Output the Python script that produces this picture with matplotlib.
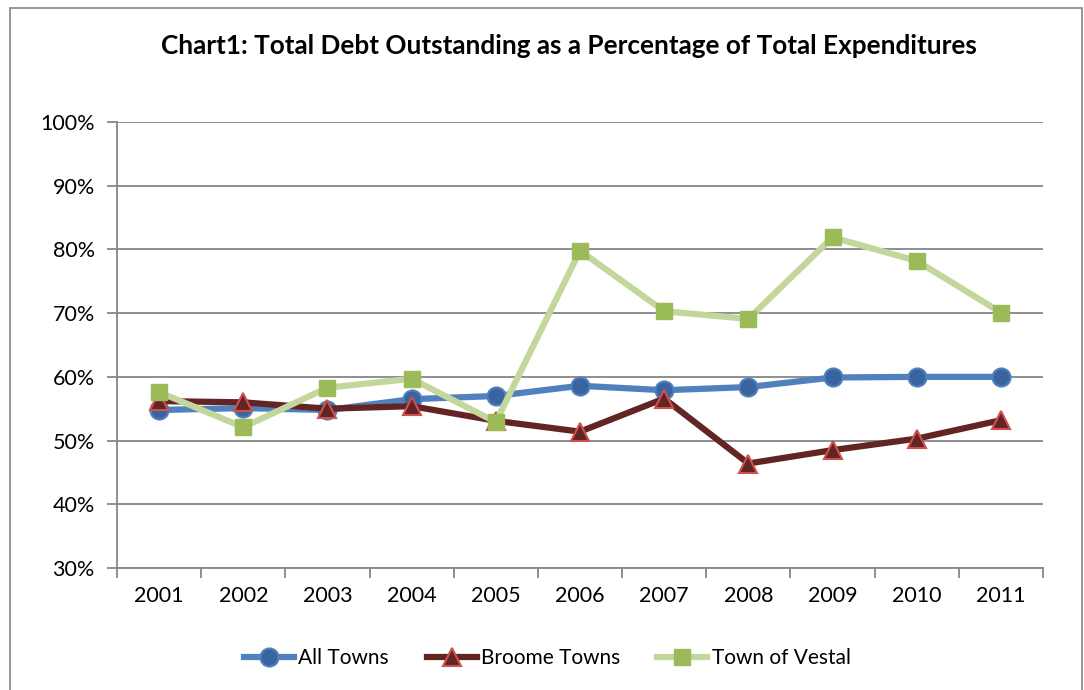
import matplotlib.pyplot as plt
from matplotlib.patches import Rectangle
from matplotlib.ticker import FixedLocator, NullFormatter
import numpy as np

plt.rcParams['font.family'] = ['Lato', 'DejaVu Sans']

years = ['2001', '2002', '2003', '2004', '2005', '2006', '2007', '2008', '2009', '2010', '2011']
all_towns = [54.8, 55.1, 54.8, 56.5, 57.0, 58.6, 57.9, 58.4, 59.9, 60.0, 60.0]
broome_towns = [56.2, 56.0, 55.0, 55.4, 53.1, 51.4, 56.6, 46.4, 48.5, 50.3, 53.2]
town_of_vestal = [57.6, 52.1, 58.3, 59.7, 52.9, 79.8, 70.3, 69.1, 81.9, 78.2, 70.1]

grey = '#868686'

fig = plt.figure(figsize=(10.84, 6.90), dpi=100)
ax = fig.add_axes([117 / 1084, 1 - 568 / 690, (1043 - 117) / 1084, (568 - 122) / 690])

# outer chart border
fig.patches.append(Rectangle((10 / 1084, -0.05), 1072 / 1084, 1.05 - 8 / 690,
                             transform=fig.transFigure, fill=False,
                             edgecolor=grey, linewidth=1.2))

x = np.arange(len(years))
ax.plot(x, all_towns, color='#4F81BD', lw=4.5, marker='o', ms=13,
        mfc='#3A64A0', mec='#4F81BD', mew=1.5, label='All Towns', zorder=3)
ax.plot(x, broome_towns, color='#632523', lw=4.5, marker='^', ms=13,
        mfc='#632523', mec='#D05050', mew=1.5, label='Broome Towns', zorder=4)
ax.plot(x, town_of_vestal, color='#C3D69B', lw=4.5, marker='s', ms=12,
        mfc='#9BBB59', mec='#9BBB59', mew=1, label='Town of Vestal', zorder=5)

ax.set_xlim(-0.5, len(years) - 0.5)
ax.set_ylim(30, 100)
ax.set_yticks(np.arange(30, 101, 10))
ax.set_yticklabels([f'{v}%' for v in range(30, 101, 10)], fontsize=15.5)
ax.yaxis.grid(True, color=grey, lw=1.3)
ax.set_axisbelow(True)

ax.set_xticks(x)
ax.set_xticklabels(years, fontsize=15.5)
ax.xaxis.set_minor_locator(FixedLocator(np.arange(-0.5, len(years), 1)))
ax.xaxis.set_minor_formatter(NullFormatter())
ax.tick_params(axis='x', which='major', length=0, pad=13)
ax.tick_params(axis='x', which='minor', length=7, color=grey, width=1.3)
ax.tick_params(axis='y', length=7, color=grey, width=1.3, pad=9)

for s in ['top', 'right']:
    ax.spines[s].set_visible(False)
for s in ['left', 'bottom']:
    ax.spines[s].set_color(grey)
    ax.spines[s].set_linewidth(1.3)

fig.text(0.525, 1 - 46 / 690, 'Chart1: Total Debt Outstanding as a Percentage of Total Expenditures',
         ha='center', va='center', fontsize=18.8, fontweight='bold')

fig.legend(loc='center', bbox_to_anchor=(0.505, 1 - 658 / 690), ncol=3, frameon=False,
           fontsize=15, handlelength=2.4, columnspacing=1.8, handletextpad=0.2)

fig.savefig('out.png', dpi=100)
